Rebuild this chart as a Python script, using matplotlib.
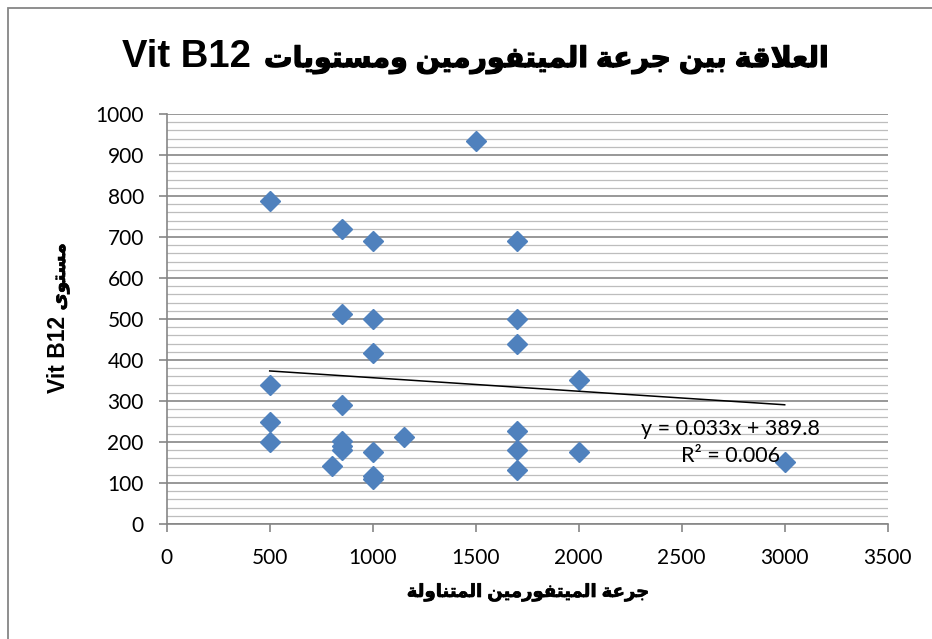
import matplotlib
matplotlib.use("Agg")
import matplotlib.pyplot as plt
import matplotlib.patheffects as pe
from matplotlib.ticker import MultipleLocator
from matplotlib.patches import Rectangle

# === Datos ===
dose = [500, 500, 500, 500, 800, 850, 850, 850, 850, 850, 850,
        1000, 1000, 1000, 1000, 1000, 1000, 1150, 1500,
        1700, 1700, 1700, 1700, 1700, 1700, 2000, 2000, 3000]
b12 = [788, 340, 250, 200, 141, 720, 512, 290, 203, 190, 180,
       690, 500, 418, 176, 118, 110, 211, 934,
       690, 500, 438, 226, 180, 131, 350, 176, 152]

# linea de tendencia (ecuacion mostrada por Excel)
trend_slope = -0.033
trend_intercept = 389.8
trend_label = "y = 0.033x + 389.8\nR\u00b2 = 0.006"

title_ar = "العلاقة بين جرعة الميتفورمين ومستويات"
xlabel_ar = "جرعة الميتفورمين المتناولة"
ylabel_ar = "مستوى"
vit_label = "Vit B12"

x_ticks = [0, 500, 1000, 1500, 2000, 2500, 3000, 3500]
y_ticks = [0, 100, 200, 300, 400, 500, 600, 700, 800, 900, 1000]

# === Formas de presentacion arabes (matplotlib no hace shaping) ===
AR_FORMS = {
    'ء': (0xFE80, 1), 'آ': (0xFE81, 2), 'أ': (0xFE83, 2), 'ؤ': (0xFE85, 2),
    'إ': (0xFE87, 2), 'ئ': (0xFE89, 4), 'ا': (0xFE8D, 2), 'ب': (0xFE8F, 4),
    'ة': (0xFE93, 2), 'ت': (0xFE95, 4), 'ث': (0xFE99, 4), 'ج': (0xFE9D, 4),
    'ح': (0xFEA1, 4), 'خ': (0xFEA5, 4), 'د': (0xFEA9, 2), 'ذ': (0xFEAB, 2),
    'ر': (0xFEAD, 2), 'ز': (0xFEAF, 2), 'س': (0xFEB1, 4), 'ش': (0xFEB5, 4),
    'ص': (0xFEB9, 4), 'ض': (0xFEBD, 4), 'ط': (0xFEC1, 4), 'ظ': (0xFEC5, 4),
    'ع': (0xFEC9, 4), 'غ': (0xFECD, 4), 'ف': (0xFED1, 4), 'ق': (0xFED5, 4),
    'ك': (0xFED9, 4), 'ل': (0xFEDD, 4), 'م': (0xFEE1, 4), 'ن': (0xFEE5, 4),
    'ه': (0xFEE9, 4), 'و': (0xFEED, 2), 'ى': (0xFEEF, 2), 'ي': (0xFEF1, 4),
}
LAM_ALEF = {'ا': 0xFEFB, 'أ': 0xFEF7, 'إ': 0xFEF9, 'آ': 0xFEF5}


def shape_ar(text):
    units = []
    i = 0
    while i < len(text):
        c = text[i]
        if c == 'ل' and i + 1 < len(text) and text[i + 1] in LAM_ALEF:
            units.append((LAM_ALEF[text[i + 1]], 2))
            i += 2
        else:
            units.append(AR_FORMS.get(c, c))
            i += 1
    out = []
    for k, u in enumerate(units):
        if isinstance(u, str):
            out.append(u)
            continue
        base, n = u
        prev = units[k - 1] if k > 0 else None
        nxt = units[k + 1] if k + 1 < len(units) else None
        j_prev = isinstance(prev, tuple) and prev[1] == 4
        j_next = n == 4 and isinstance(nxt, tuple) and nxt[1] > 1
        if j_prev and j_next:
            off = 3
        elif j_prev:
            off = 1 if n > 1 else 0
        elif j_next:
            off = 2
        else:
            off = 0
        out.append(chr(base + off))
    # orden visual (derecha a izquierda)
    return ''.join(reversed(out))


BOLD_FONTS = ['Liberation Sans', 'DejaVu Sans']
plt.rcParams['font.family'] = ['Lato', 'DejaVu Sans']

GRID_MAJOR = "#868686"
GRID_MINOR = "#BDBDBD"
BLUE = "#4F81BD"
W, H = 932, 639
heavy = [pe.withStroke(linewidth=0.9, foreground="black")]
heavy_small = [pe.withStroke(linewidth=0.5, foreground="black")]

fig = plt.figure(figsize=(9.32, 6.39), dpi=100)
ax = fig.add_axes([166.7 / W, 1 - 524 / H, 721 / W, 410 / H])

ax.plot(dose, b12, linestyle="none", marker="D", markersize=10,
        color=BLUE, markeredgecolor=BLUE, zorder=3)

tx = [min(dose), max(dose)]
ty = [trend_slope * v + trend_intercept for v in tx]
ax.plot(tx, ty, color="black", linewidth=1.1, zorder=4)

ax.text(0.782, 0.198, trend_label, transform=ax.transAxes, ha="center",
        va="center", multialignment="center", fontsize=15.5, linespacing=1.42,
        zorder=5)

ax.set_xlim(0, 3500)
ax.set_ylim(0, 1000)
ax.set_xticks(x_ticks)
ax.set_yticks(y_ticks)
ax.yaxis.set_minor_locator(MultipleLocator(20))

ax.grid(which="major", axis="y", color=GRID_MAJOR, linewidth=1.2, zorder=1)
ax.grid(which="minor", axis="y", color=GRID_MINOR, linewidth=0.9, zorder=0)
ax.grid(which="major", axis="x", visible=False)
ax.set_axisbelow(True)

for s in ["top", "right"]:
    ax.spines[s].set_visible(False)
for s in ["left", "bottom"]:
    ax.spines[s].set_color(GRID_MAJOR)
    ax.spines[s].set_linewidth(1.2)

ax.tick_params(axis="both", which="major", direction="out", length=5.5,
               width=1.2, color=GRID_MAJOR, labelsize=15)
ax.tick_params(axis="y", which="major", pad=11)
ax.tick_params(axis="x", which="major", pad=12)
ax.tick_params(axis="y", which="minor", length=0)

# titulo: "Vit B12" a la izquierda, texto arabe a la derecha
fig.text(122 / W, 1 - 67 / H, vit_label, family=BOLD_FONTS,
         fontweight="bold", fontsize=27.5, ha="left", va="baseline")
fig.text(830 / W, 1 - 67 / H, shape_ar(title_ar), family=BOLD_FONTS,
         fontweight="bold", fontsize=20.5, ha="right", va="baseline",
         path_effects=heavy)

# etiqueta eje x
fig.text(528 / W, 1 - 597 / H, shape_ar(xlabel_ar),
         family=BOLD_FONTS, fontweight="bold", fontsize=13,
         ha="center", va="baseline", path_effects=heavy_small)

# etiqueta eje y (girada): "Vit B12" abajo, "مستوى" arriba
fig.text(65 / W, 1 - 393 / H, vit_label, family=BOLD_FONTS,
         fontweight="bold", fontsize=16.5, rotation=90,
         rotation_mode="anchor", ha="left", va="baseline")
fig.text(65 / W, 1 - 243 / H, shape_ar(ylabel_ar), family=BOLD_FONTS,
         fontweight="bold", fontsize=13.5, rotation=90,
         rotation_mode="anchor", ha="right", va="baseline",
         path_effects=heavy_small)

# marco exterior del grafico
fig.patches.append(Rectangle((8 / W, -0.1), 1.1, 1 - 8 / H + 0.1,
                             transform=fig.transFigure, fill=False,
                             edgecolor=GRID_MAJOR, linewidth=1.3))

fig.savefig("out.png", dpi=100)
